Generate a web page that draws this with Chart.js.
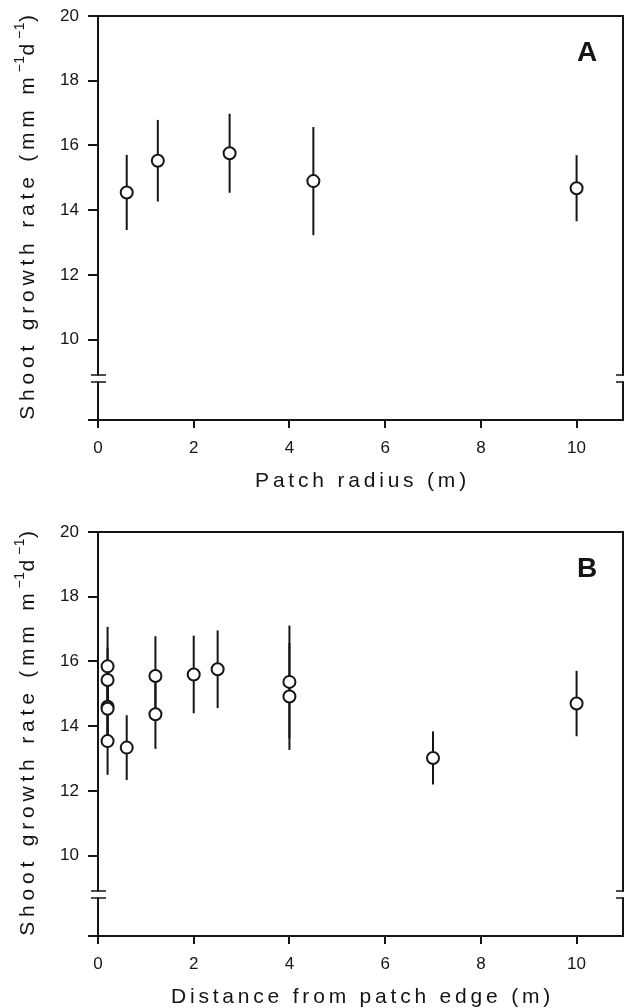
<!DOCTYPE html>
<html>
<head>
<meta charset="utf-8">
<script src="https://cdn.jsdelivr.net/npm/chart.js@4.4.1/dist/chart.umd.min.js"></script>
<style>
  html, body { margin: 0; padding: 0; background: #fff; }
  #wrapA { position: absolute; left: 0; top: 0; width: 624px; height: 500px; }
  #wrapB { position: absolute; left: 0; top: 516px; width: 624px; height: 492px; }
</style>
</head>
<body>
<div id="wrapA"><canvas id="chartA"></canvas></div>
<div id="wrapB"><canvas id="chartB"></canvas></div>
<script>
// panel A: growth vs patch radius
const radiusA = [0.6, 1.25, 2.75, 4.5, 10];
const meanA = [14.55, 15.53, 15.76, 14.9, 14.68];
const sdA = [1.16, 1.26, 1.22, 1.67, 1.02];

// panel B: growth vs distance from patch edge
const distB = [0.2, 0.2, 0.2, 0.2, 0.2, 0.6, 1.2, 1.2, 2.0, 2.5, 4.0, 4.0, 7.0, 10.0];
const meanB = [15.85, 15.43, 14.6, 14.54, 13.54, 13.34, 15.55, 14.37, 15.6, 15.76, 15.37, 14.92, 13.02, 14.7];
const sdB = [1.22, 1.0, 1.1, 1.0, 1.04, 1.0, 1.23, 1.07, 1.2, 1.2, 1.74, 1.65, 0.82, 1.01];

const xTicks = [0, 2, 4, 6, 8, 10];
const yTicks = [10, 12, 14, 16, 18, 20];
const yBottom = 7.52;   // broken axis floor
const yBreak = 8.8;     // where the axis break marks sit
const xMax = 10.97;

const INK = '#151515';
const FONT = '"Liberation Sans", Arial, Helvetica, sans-serif';

// error bars are drawn under the circles
const errorBars = {
  id: 'errorBars',
  beforeDatasetsDraw(chart) {
    const { ctx, scales: { x, y } } = chart;
    ctx.save();
    ctx.strokeStyle = INK;
    ctx.lineWidth = 2;
    chart.data.datasets.forEach(ds => {
      ds.data.forEach((p, i) => {
        const px = x.getPixelForValue(p.x);
        ctx.beginPath();
        ctx.moveTo(px, y.getPixelForValue(p.y - ds.errors[i]));
        ctx.lineTo(px, y.getPixelForValue(p.y + ds.errors[i]));
        ctx.stroke();
      });
    });
    ctx.restore();
  }
};

// frame, axis breaks, titles and panel letter
const decor = {
  id: 'decor',
  afterDraw(chart, args, opts) {
    const { ctx, chartArea: a, scales: { y } } = chart;
    ctx.save();
    ctx.strokeStyle = INK;
    ctx.lineWidth = 2;
    ctx.beginPath();
    ctx.moveTo(a.left, a.top);
    ctx.lineTo(a.right, a.top);
    ctx.lineTo(a.right, a.bottom);
    ctx.stroke();

    // axis breaks
    const by = y.getPixelForValue(yBreak);
    ctx.fillStyle = '#fff';
    ctx.fillRect(a.left - 2, by - 3, 4, 6);
    ctx.fillRect(a.right - 2, by - 3, 4, 6);
    ctx.lineWidth = 1.6;
    ctx.beginPath();
    [by - 3.5, by + 3.5].forEach(yy => {
      ctx.moveTo(a.left - 7, yy); ctx.lineTo(a.left + 8, yy);
      ctx.moveTo(a.right - 7, yy); ctx.lineTo(a.right + 2, yy);
    });
    ctx.stroke();

    ctx.fillStyle = INK;
    // panel letter
    ctx.font = 'bold 28px ' + FONT;
    ctx.textAlign = 'center';
    ctx.textBaseline = 'middle';
    ctx.fillText(opts.letter, a.right - 36, a.top + 37);

    // x title
    ctx.font = '21px ' + FONT;
    ctx.letterSpacing = '3.8px';
    ctx.fillText(opts.xTitle, (a.left + a.right) / 2 + 2, a.bottom + 61);

    // y title with superscripts
    const parts = [
      ['Shoot growth rate (mm m', false], ['\u22121', true], ['d', false], ['\u22121', true], [')', false]
    ];
    const fontFor = sup => (sup ? '14px ' : '21px ') + FONT;
    const spacing = sup => (sup ? '0.5px' : '4.8px');
    let total = 0;
    parts.forEach(([t, sup]) => {
      ctx.font = fontFor(sup);
      ctx.letterSpacing = spacing(sup);
      total += ctx.measureText(t).width;
    });
    ctx.translate(28, (a.top + a.bottom) / 2 - 3);
    ctx.rotate(-Math.PI / 2);
    ctx.textAlign = 'left';
    let cx = -total / 2;
    parts.forEach(([t, sup]) => {
      ctx.font = fontFor(sup);
      ctx.letterSpacing = spacing(sup);
      ctx.fillText(t, cx, sup ? -8 : 0);
      cx += ctx.measureText(t).width;
    });
    ctx.restore();
  }
};

function makeChart(id, xs, means, sds, letter, xTitle, xHeight) {
  return new Chart(document.getElementById(id), {
    type: 'scatter',
    data: {
      datasets: [{
        data: xs.map((v, i) => ({ x: v, y: means[i] })),
        errors: sds,
        pointStyle: 'circle',
        pointRadius: 6,
        pointHoverRadius: 6,
        pointBackgroundColor: '#fff',
        pointBorderColor: INK,
        pointBorderWidth: 2,
        showLine: false,
        clip: false
      }]
    },
    options: {
      responsive: true,
      maintainAspectRatio: false,
      animation: false,
      layout: { autoPadding: false, padding: { top: 16, right: 1, left: 0, bottom: 0 } },
      plugins: {
        legend: { display: false },
        tooltip: { enabled: false },
        decor: { letter, xTitle }
      },
      scales: {
        x: {
          type: 'linear',
          min: 0,
          max: xMax,
          afterBuildTicks: s => { s.ticks = xTicks.map(v => ({ value: v })); },
          afterFit: s => { s.height = xHeight; s.paddingLeft = 0; s.paddingRight = 0; },
          grid: { drawOnChartArea: false, drawTicks: true, tickLength: 8, color: INK, lineWidth: 2 },
          border: { display: true, color: INK, width: 2 },
          ticks: { color: INK, font: { family: FONT, size: 17 }, padding: 10, maxRotation: 0 }
        },
        y: {
          type: 'linear',
          min: yBottom,
          max: 20,
          afterBuildTicks: s => { s.ticks = [yBottom].concat(yTicks).map(v => ({ value: v })); },
          afterFit: s => { s.width = 98; s.paddingTop = 0; s.paddingBottom = 0; },
          grid: { drawOnChartArea: false, drawTicks: true, tickLength: 10, color: INK, lineWidth: 2 },
          border: { display: true, color: INK, width: 2 },
          ticks: {
            color: INK, font: { family: FONT, size: 17 }, padding: 9,
            callback: v => (yTicks.includes(v) ? String(v) : '')
          }
        }
      }
    },
    plugins: [errorBars, decor]
  });
}

makeChart('chartA', radiusA, meanA, sdA, 'A', 'Patch radius (m)', 80);
makeChart('chartB', distB, meanB, sdB, 'B', 'Distance from patch edge (m)', 72);
</script>
</body>
</html>
